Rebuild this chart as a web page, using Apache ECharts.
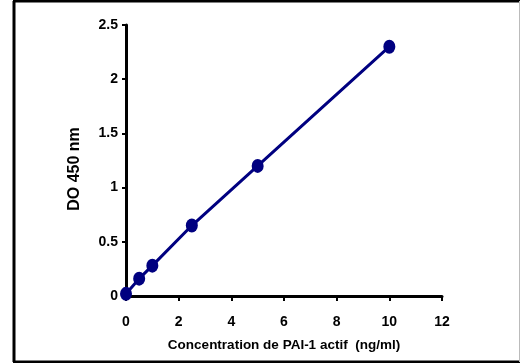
<!DOCTYPE html>
<html><head><meta charset="utf-8">
<script src="https://cdn.jsdelivr.net/npm/echarts@6/dist/echarts.min.js"></script>
<style>html,body{margin:0;padding:0;background:#fff}#c{width:520px;height:363px}</style>
</head><body><div id="c"></div>
<script>
var concentrations = [0, 0.5, 1, 2.5, 5, 10];
var absorbance = [0.02, 0.16, 0.28, 0.65, 1.2, 2.3];
var xTicks = [0, 2, 4, 6, 8, 10, 12];
var yTicks = [0, 0.5, 1, 1.5, 2, 2.5];
var xTitle = 'Concentration de PAI-1 actif  (ng/ml)';
var yTitle = 'DO 450 nm';

var chart = echarts.init(document.getElementById('c'), null, {renderer: 'canvas'});
var font = 'Liberation Sans, Arial, sans-serif';
chart.setOption({
  animation: false,
  grid: {left: 126, right: 78, top: 25, bottom: 67, containLabel: false},
  xAxis: {
    type: 'value', min: 0, max: 12, interval: 2,
    axisLine: {show: true, lineStyle: {color: '#000', width: 3}},
    axisTick: {show: true, length: 5, lineStyle: {color: '#000', width: 2}},
    axisLabel: {color: '#000', fontWeight: 'bold', fontSize: 14, fontFamily: font, margin: 19,
      formatter: function (v) { return xTicks.indexOf(v) >= 0 ? String(v) : ''; }},
    splitLine: {show: false},
    name: xTitle, nameLocation: 'middle', nameGap: 42,
    nameTextStyle: {color: '#000', fontWeight: 'bold', fontSize: 13.5, fontFamily: font}
  },
  yAxis: {
    type: 'value', min: 0, max: 2.5, interval: 0.5,
    axisLine: {show: true, lineStyle: {color: '#000', width: 3}},
    axisTick: {show: true, length: 4, lineStyle: {color: '#000', width: 2}},
    axisLabel: {color: '#000', fontWeight: 'bold', fontSize: 14, fontFamily: font, margin: 8,
      formatter: function (v) { return yTicks.indexOf(v) >= 0 ? String(v) : ''; }},
    splitLine: {show: false}
  },
  graphic: [
    {type: 'text', x: 75, y: 169, rotation: Math.PI / 2,
      style: {text: yTitle, fill: '#000', font: 'bold 16px Liberation Sans, Arial, sans-serif', align: 'center', verticalAlign: 'middle'}},
    {type: 'line', shape: {x1: 14, y1: 1, x2: 14, y2: 362}, style: {stroke: '#000', lineWidth: 3}},
    {type: 'line', shape: {x1: 13, y1: 1, x2: 520, y2: 1}, style: {stroke: '#000', lineWidth: 3}},
    {type: 'line', shape: {x1: 13, y1: 362, x2: 520, y2: 362}, style: {stroke: '#000', lineWidth: 3}},
    {type: 'line', shape: {x1: 519.5, y1: 1, x2: 519.5, y2: 362}, style: {stroke: '#bbb', lineWidth: 1}}
  ],
  series: [{
    type: 'line',
    data: concentrations.map(function (c, i) { return [c, absorbance[i]]; }),
    symbol: 'circle', symbolSize: [12, 14],
    lineStyle: {color: '#000080', width: 3},
    itemStyle: {color: '#000080'},
    z: 5
  }]
});
</script></body></html>
